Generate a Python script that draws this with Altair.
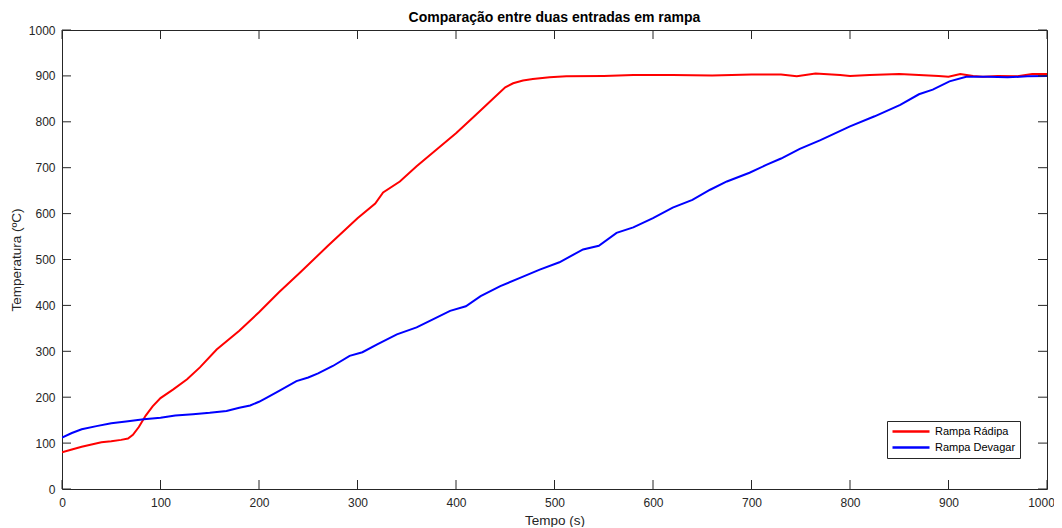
import altair as alt
import pandas as pd

# ---- data ----
red_t = [0, 10, 20, 30, 40, 50, 60, 67, 72, 78, 85, 92, 100, 113, 127, 140, 157, 180, 200, 220,
         242, 270, 300, 318, 326, 343, 360, 380, 400, 420, 440, 450, 458, 468, 478, 495, 512, 550,
         580, 620, 660, 700, 730, 746, 765, 790, 800, 820, 850, 870, 890, 900, 912, 925, 935, 950,
         970, 985, 1000]
red_v = [80, 86, 92, 97, 102, 104, 107, 110, 118, 135, 160, 180, 198, 217, 239, 265, 304, 345, 385, 428,
         472, 530, 590, 622, 646, 670, 703, 739, 775, 815, 855, 875, 884, 890, 893, 897, 899, 900,
         902, 902, 901, 903, 903, 899, 905, 902, 900, 902, 904, 902, 900, 898, 904, 900, 898, 900,
         899, 904, 904]

blue_t = [0, 10, 20, 35, 50, 65, 83, 100, 115, 133, 150, 167, 180, 191, 200, 208, 220, 238, 250, 260,
          275, 292, 305, 320, 340, 360, 375, 394, 410, 425, 445, 465, 485, 505, 529, 545, 563, 580,
          600, 620, 640, 658, 675, 698, 715, 730, 749, 770, 800, 825, 851, 870, 884, 901, 918, 940,
          960, 980, 1000]
blue_v = [112, 122, 130, 137, 143, 147, 152, 155, 160, 163, 166, 170, 177, 182, 190, 199, 213, 235, 243, 252,
          268, 290, 298, 315, 337, 352, 368, 388, 398, 420, 442, 460, 478, 494, 522, 530, 558, 570,
          590, 613, 630, 652, 670, 689, 706, 720, 741, 760, 790, 812, 837, 860, 870, 888, 898, 898,
          897, 899, 900]

series_names = ["Rampa Rádipa", "Rampa Devagar"]
series_colors = ["#ff0000", "#0000ff"]
x_ticks = list(range(0, 1001, 100))
y_ticks = list(range(0, 1001, 100))

df = pd.concat([
    pd.DataFrame({"t": red_t, "temp": red_v, "serie": series_names[0]}),
    pd.DataFrame({"t": blue_t, "temp": blue_v, "serie": series_names[1]}),
])
xt = pd.DataFrame({"t": x_ticks})
yt = pd.DataFrame({"temp": y_ticks})

W, H = 985, 459
FONT = "Liberation Sans"
AX = "#262626"
TL = 9

x_scale = alt.Scale(domain=[0, 1000], nice=False, zero=False)
y_scale = alt.Scale(domain=[0, 1000], nice=False, zero=False)
x_axis = alt.Axis(title="Tempo (s)", values=x_ticks, ticks=False, tickSize=0, domain=False,
                  grid=False, labelPadding=8, titlePadding=5, format="d", labelFlush=False,
                  labelOffset=alt.ExprRef(expr="datum.value == 1000 ? -6 : 0"))
y_axis = alt.Axis(title="Temperatura (ºC)", values=y_ticks, ticks=False, tickSize=0, domain=False,
                  grid=False, labelPadding=7, titlePadding=5, format="d", labelFlush=False)


def X():
    return alt.X("t:Q", scale=x_scale, axis=x_axis)


def Y():
    return alt.Y("temp:Q", scale=y_scale, axis=y_axis)


lines = alt.Chart(df).mark_line(strokeWidth=2, clip=True).encode(
    x=X(),
    y=Y(),
    color=alt.Color(
        "serie:N",
        sort=series_names,
        scale=alt.Scale(domain=series_names, range=series_colors),
        legend=alt.Legend(
            title=None, orient="none", legendX=825, legendY=391,
            symbolType="stroke", symbolSize=1369, symbolStrokeWidth=2.5,
            clipHeight=13, rowPadding=3, labelOffset=4,
            labelFont=FONT, labelFontSize=11, labelColor="#000000",
            strokeColor=AX, fillColor="#ffffff", padding=4, symbolOffset=0,
        ),
    ),
)

tick_bottom = alt.Chart(xt).mark_rule(color=AX, strokeWidth=1).encode(
    x=X(), y=alt.value(H), y2=alt.value(H - TL))
tick_top = alt.Chart(xt).mark_rule(color=AX, strokeWidth=1).encode(
    x=X(), y=alt.value(0), y2=alt.value(TL))
tick_left = alt.Chart(yt).mark_rule(color=AX, strokeWidth=1).encode(
    y=Y(), x=alt.value(0), x2=alt.value(TL))
tick_right = alt.Chart(yt).mark_rule(color=AX, strokeWidth=1).encode(
    y=Y(), x=alt.value(W), x2=alt.value(W - TL))

chart = alt.layer(lines, tick_bottom, tick_top, tick_left, tick_right).properties(
    width=W, height=H,
    padding={"left": 54, "top": 22, "right": 7, "bottom": 38},
    autosize=alt.AutoSizeParams(type="none"),
    title=alt.TitleParams("Comparação entre duas entradas em rampa", font=FONT, fontSize=14,
                          fontWeight="bold", color="#000000", offset=3, dy=4, anchor="middle"),
).configure_view(stroke=AX, strokeWidth=1).configure_axis(
    labelFont=FONT, labelFontSize=12, labelColor=AX,
    titleFont=FONT, titleFontSize=13.5, titleColor=AX, titleFontWeight="normal",
)

chart.save("out.html", embed_options={"renderer": "svg", "actions": False})
